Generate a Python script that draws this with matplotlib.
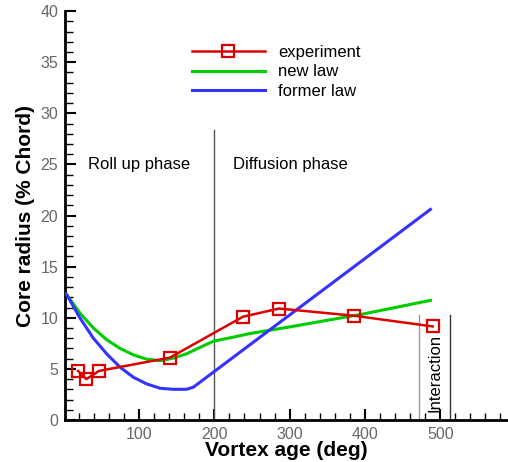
import numpy as np
import matplotlib.pyplot as plt
from matplotlib.ticker import MultipleLocator

plt.rcParams['font.family'] = ['Liberation Sans', 'DejaVu Sans']

# experiment points
exp_age = [19, 30, 47, 141, 238, 286, 385, 490]
exp_r = [4.8, 4.0, 4.8, 6.1, 10.1, 10.9, 10.2, 9.15]

# new law
new_age = [0, 4, 21.6, 39.3, 57, 74.8, 92.4, 110, 128, 145.6, 163, 181, 198.7,
           225, 247, 300, 400, 487]
new_r = [12.4, 12.25, 10.45, 9.0, 7.85, 7.0, 6.37, 5.95, 5.8, 6.05, 6.47, 7.1, 7.7,
         8.1, 8.45, 9.1, 10.4, 11.7]

# former law
old_age = [0, 4, 21.6, 39.3, 57, 74.8, 92.4, 110, 128, 145.6, 163, 172, 487]
old_r = [12.4, 12.25, 9.97, 8.0, 6.47, 5.16, 4.18, 3.53, 3.1, 3.0, 3.0, 3.2, 20.6]

fig = plt.figure(figsize=(5.08, 4.62), dpi=100)
ax = fig.add_axes([0.128, 0.091, 0.872, 0.885])

ax.plot(exp_age, exp_r, color='#dd0000', lw=1.8, marker='s', ms=8,
        mfc='none', mec='#dd0000', mew=1.6, label='experiment', zorder=4)
ax.plot(new_age, new_r, color='#00cc00', lw=2.2, label='new law', zorder=3)
ax.plot(old_age, old_r, color='#3333ff', lw=2.2, label='former law', zorder=3)

# phase separators
ax.plot([200, 200], [0, 28.4], color='#555555', lw=1.0)
ax.plot([472, 472], [0, 10.3], color='#999999', lw=1.0)
ax.plot([513, 513], [0, 10.3], color='#333333', lw=1.0)

ax.text(32, 25, 'Roll up phase', fontsize=12, va='center', ha='left')
ax.text(225, 25, 'Diffusion phase', fontsize=12, va='center', ha='left')
ax.text(493, 0.8, 'Interaction', fontsize=12, rotation=90, va='bottom', ha='center')

ax.set_xlim(1.7, 590)
ax.set_ylim(0, 40)
ax.xaxis.set_major_locator(MultipleLocator(100))
ax.xaxis.set_minor_locator(MultipleLocator(20))
ax.yaxis.set_major_locator(MultipleLocator(5))
ax.yaxis.set_minor_locator(MultipleLocator(1))
ax.set_xticks([100, 200, 300, 400, 500])

for s in ['top', 'right']:
    ax.spines[s].set_visible(False)
for s in ['left', 'bottom']:
    ax.spines[s].set_linewidth(2)

ax.tick_params(which='major', direction='in', length=8, width=1.5,
               labelsize=11.5, labelcolor='#666666', pad=5)
ax.tick_params(which='minor', direction='in', length=5, width=1)
ax.tick_params(axis='y', which='minor', length=6)

ax.set_xlabel('Vortex age (deg)', fontsize=15, fontweight='bold', labelpad=-1)
ax.set_ylabel('Core radius (% Chord)', fontsize=15, fontweight='bold', labelpad=4)

ax.legend(loc='upper left', bbox_to_anchor=(0.252, 0.953), frameon=False,
          fontsize=12, handlelength=4.4, handletextpad=0.8, labelspacing=0.25)

fig.savefig('out.png', dpi=100)
